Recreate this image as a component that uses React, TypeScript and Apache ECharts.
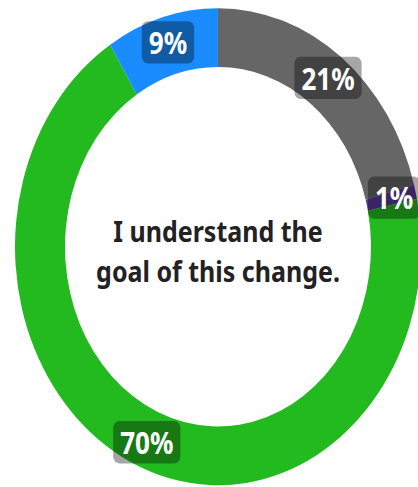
import React, { useEffect, useRef } from "react";
import * as echarts from "echarts";

const categories = ["Neutral", "Disagree", "Agree", "Strongly agree"];
const values = [21, 1, 70, 9];
const colors = ["#666666", "#5a3a9a", "#22ba1f", "#1a8cff"];
const centerLines = ["I understand the", "goal of this change."];

const STRETCH = 1.175;

export default function App() {
  const ref = useRef<HTMLDivElement>(null);
  useEffect(() => {
    if (!ref.current) return;
    const chart = echarts.init(ref.current, null, { renderer: "svg" });
    chart.setOption({
      animation: false,
      graphic: [
        {
          type: "text",
          x: 218,
          y: 213,
          style: {
            text: centerLines.join("\n"),
            fill: "#222222",
            font: "bold 25px 'Noto Sans', sans-serif",
            lineHeight: 34,
            align: "center",
            verticalAlign: "middle",
          },
        },
      ],
      series: [
        {
          type: "pie",
          center: [218, 210],
          radius: [153, 203],
          startAngle: 90,
          clockwise: true,
          silent: true,
          label: {
            show: true,
            position: "inside",
            formatter: "{c}%",
            color: "#ffffff",
            fontSize: 26,
            fontWeight: "bold",
            fontFamily: "'Noto Sans', sans-serif",
            backgroundColor: "rgba(0,0,0,0.35)",
            borderRadius: 6,
            padding: [5, 7, 5, 7],
          },
          labelLine: { show: false },
          emphasis: { disabled: true },
          data: values.map((v, i) => ({
            name: categories[i],
            value: v,
            itemStyle: { color: colors[i] },
          })),
        },
      ],
    });
    return () => chart.dispose();
  }, []);
  return (
    <div
      style={{
        position: "fixed",
        left: 0,
        top: 0,
        width: 418,
        height: 487,
        overflow: "hidden",
        background: "#ffffff",
      }}
    >
      <div
        ref={ref}
        style={{
          width: 418,
          height: 415,
          transform: `scaleY(${STRETCH})`,
          transformOrigin: "0 0",
        }}
      />
    </div>
  );
}
